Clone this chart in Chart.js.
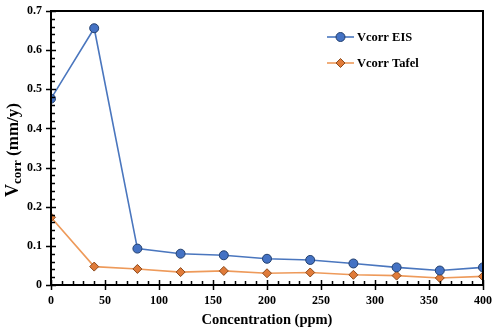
<!DOCTYPE html>
<html>
<head>
<meta charset="utf-8">
<script src="https://cdn.jsdelivr.net/npm/chart.js@4.4.0/dist/chart.umd.min.js"></script>
<style>
  body { margin: 0; background: #fff; }
  #wrap { width: 500px; height: 329px; }
</style>
</head>
<body>
<div id="wrap"><canvas id="chart" width="500" height="329"></canvas></div>
<script>
// values
const concentrations = [0, 40, 80, 120, 160, 200, 240, 280, 320, 360, 400];
const vcorrEIS = [0.476, 0.656, 0.093, 0.080, 0.076, 0.067, 0.064, 0.055, 0.045, 0.037, 0.045];
const vcorrTafel = [0.173, 0.047, 0.041, 0.033, 0.036, 0.030, 0.032, 0.026, 0.024, 0.018, 0.022];
const seriesNames = ['Vcorr EIS', 'Vcorr Tafel'];
const xTitle = 'Concentration (ppm)';

const serif = '"Liberation Serif", "Times New Roman", serif';

const toPoints = (ys) => concentrations.map((x, i) => ({ x: x, y: ys[i] }));

// axis frame, minor ticks, y title, legend inside the plot
const decor = {
    id: 'decor',
    afterDraw(chart) {
        const ctx = chart.ctx;
        const area = chart.chartArea;
        const xs = chart.scales.x;
        const ys = chart.scales.y;
        ctx.save();
        ctx.strokeStyle = '#000';
        ctx.lineWidth = 2;
        ctx.strokeRect(area.left, area.top, area.right - area.left, area.bottom - area.top);

        ctx.lineWidth = 1.5;
        ctx.beginPath();
        // y ticks
        for (let i = 0; i <= 35; i++) {
            let py = Math.round(ys.getPixelForValue(i * 0.02)) + 0.5;
            let major = i % 5 === 0;
            ctx.moveTo(area.left - (major ? 5 : 0), py);
            ctx.lineTo(area.left + (major ? 5 : 4), py);
        }
        // x ticks
        for (let v = 0; v <= 400; v += 10) {
            let px = Math.round(xs.getPixelForValue(v)) + 0.5;
            let major = v % 50 === 0;
            ctx.moveTo(px, area.bottom + (major ? 5 : 0));
            ctx.lineTo(px, area.bottom - (major ? 5 : 4));
        }
        ctx.stroke();

        // y title with subscript
        ctx.fillStyle = '#000';
        ctx.textBaseline = 'alphabetic';
        ctx.translate(18, 150);
        ctx.rotate(-Math.PI / 2);
        let bigFont = 'bold 18px ' + serif;
        let subFont = 'bold 13px ' + serif;
        let midFont = 'bold 17px ' + serif;
        ctx.font = bigFont;
        let wV = ctx.measureText('V').width;
        ctx.font = subFont;
        let wSub = ctx.measureText('corr').width;
        ctx.font = midFont;
        let wRest = ctx.measureText(' (mm/y)').width;
        let x0 = -(wV + wSub + wRest) / 2;
        ctx.font = bigFont;
        ctx.fillText('V', x0, 0);
        ctx.font = subFont;
        ctx.fillText('corr', x0 + wV, 3);
        ctx.font = midFont;
        ctx.fillText(' (mm/y)', x0 + wV + wSub, 0);
        ctx.restore();

        // legend
        ctx.save();
        ctx.font = 'bold 12.5px ' + serif;
        ctx.textBaseline = 'middle';
        chart.data.datasets.forEach((ds, i) => {
            let ly = 37 + i * 26;
            let cx = 340.5;
            ctx.strokeStyle = ds.borderColor;
            ctx.lineWidth = ds.borderWidth;
            ctx.beginPath();
            ctx.moveTo(327, ly);
            ctx.lineTo(354, ly);
            ctx.stroke();
            ctx.fillStyle = ds.pointBackgroundColor;
            ctx.strokeStyle = ds.pointBorderColor;
            ctx.lineWidth = ds.pointBorderWidth;
            ctx.beginPath();
            let r = ds.pointRadius;
            if (ds.pointStyle === 'circle') {
                ctx.arc(cx, ly, r, 0, Math.PI * 2);
            } else {
                ctx.moveTo(cx, ly - r);
                ctx.lineTo(cx + r, ly);
                ctx.lineTo(cx, ly + r);
                ctx.lineTo(cx - r, ly);
                ctx.closePath();
            }
            ctx.fill();
            ctx.stroke();
            ctx.fillStyle = '#000';
            ctx.fillText(ds.label, 357, ly + 1);
        });
        ctx.restore();
    }
};

const config = {
    type: 'line',
    data: {
        datasets: [{
            label: seriesNames[0],
            data: toPoints(vcorrEIS),
            borderColor: '#4a76be',
            borderWidth: 1.6,
            pointStyle: 'circle',
            pointRadius: 4.5,
            pointBorderWidth: 1,
            pointBackgroundColor: '#4472c4',
            pointBorderColor: '#23406e',
            tension: 0
        }, {
            label: seriesNames[1],
            data: toPoints(vcorrTafel),
            borderColor: '#ee9a5a',
            borderWidth: 1.6,
            pointStyle: 'rectRot',
            pointRadius: 4.5,
            pointBorderWidth: 1,
            pointBackgroundColor: '#e07b39',
            pointBorderColor: '#8c4a1c',
            tension: 0
        }]
    },
    options: {
        responsive: false,
        animation: false,
        layout: { padding: { left: 0, top: 11, right: 17, bottom: 0 } },
        plugins: { legend: { display: false }, tooltip: { enabled: false } },
        scales: {
            x: {
                type: 'linear',
                min: 0,
                max: 400,
                grid: { display: false, drawTicks: false },
                border: { display: false },
                ticks: {
                    stepSize: 50,
                    padding: 9,
                    color: '#000',
                    font: { family: serif, size: 12, weight: 'bold' }
                },
                title: {
                    display: true,
                    text: xTitle,
                    color: '#000',
                    padding: { top: 4, bottom: 0 },
                    font: { family: serif, size: 14.5, weight: 'bold' }
                },
                afterFit: (scale) => {
                    scale.height = 44;
                    scale.paddingLeft = 0;
                    scale.paddingRight = 0;
                }
            },
            y: {
                min: 0,
                max: 0.7,
                grid: { display: false, drawTicks: false },
                border: { display: false },
                ticks: {
                    stepSize: 0.1,
                    padding: 9,
                    color: '#000',
                    font: { family: serif, size: 12, weight: 'bold' },
                    callback: (v) => v === 0 ? '0' : v.toFixed(1)
                },
                afterFit: (scale) => {
                    scale.width = 51;
                    scale.paddingTop = 0;
                    scale.paddingBottom = 0;
                }
            }
        }
    },
    plugins: [decor]
};

new Chart(document.getElementById('chart'), config);
</script>
</body>
</html>
